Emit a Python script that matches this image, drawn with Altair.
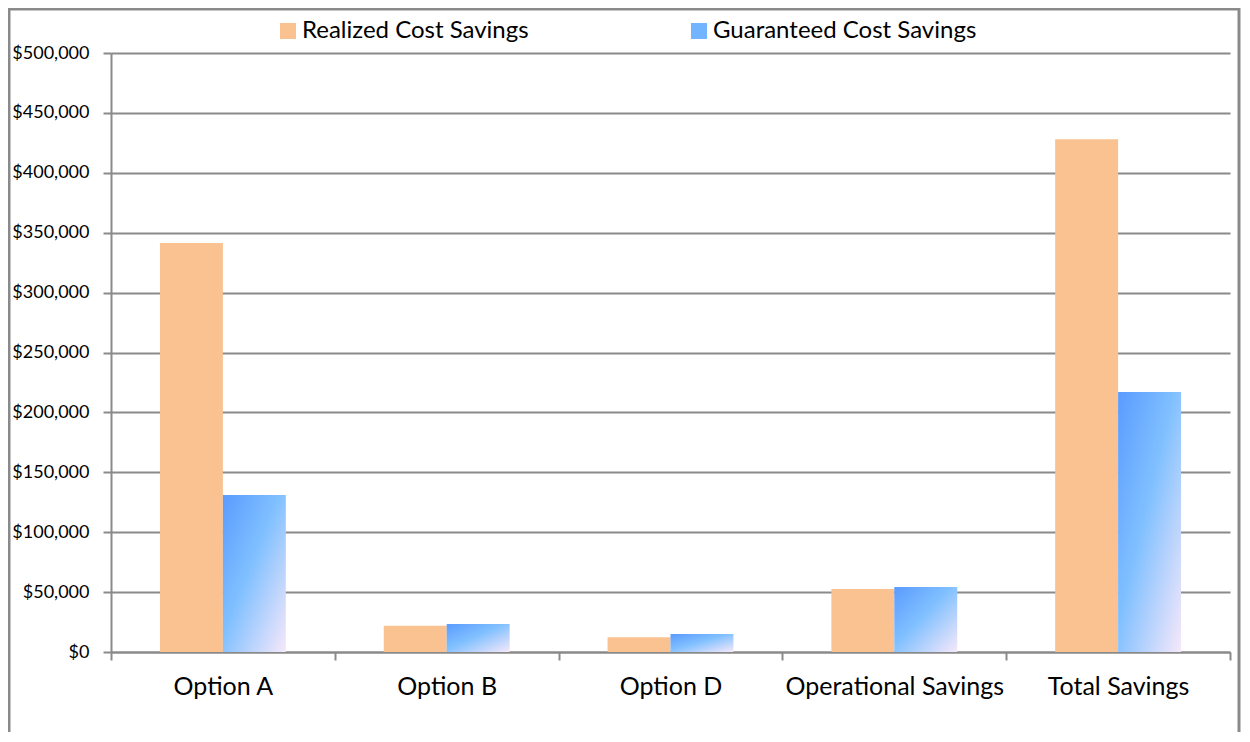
import altair as alt
import pandas as pd

categories = ["Option A", "Option B", "Option D", "Operational Savings", "Total Savings"]
realized = [341500, 22000, 12300, 52600, 428000]
guaranteed = [131000, 23400, 15000, 54300, 217000]
series = ["Realized Cost Savings", "Guaranteed Cost Savings"]
y_ticks = [0, 50000, 100000, 150000, 200000, 250000, 300000, 350000, 400000, 450000, 500000]

rows = []
for c, r, g in zip(categories, realized, guaranteed):
    rows.append({"Category": c, "Series": series[0], "Value": r})
    rows.append({"Category": c, "Series": series[1], "Value": g})
df = pd.DataFrame(rows)

W, H = 1119, 599
GRID = "#8a8a8a"
FONT = "Lato"
ORANGE = "#FAC191"

x = alt.X(
    "Category:N", sort=categories,
    scale=alt.Scale(paddingInner=0, paddingOuter=0),
    axis=alt.Axis(title=None, labelAngle=0, labelFontSize=25, labelFont=FONT, labelColor="black",
                  labelLimit=400, tickBand="extent", tickSize=8, tickColor=GRID, tickWidth=2,
                  domainColor=GRID, domainWidth=2, labelPadding=14, grid=False),
)
xoff = alt.XOffset("Series:N", sort=series,
                   scale=alt.Scale(domain=series, paddingInner=0, paddingOuter=0.778))
y = alt.Y(
    "Value:Q",
    scale=alt.Scale(domain=[0, 500000], nice=False, zero=True),
    axis=alt.Axis(title=None, values=y_ticks, format="$,.0f", labelFontSize=18, labelFont=FONT,
                  labelColor="black", tickSize=8, tickColor=GRID, tickWidth=2,
                  domainColor=GRID, domainWidth=2, labelPadding=14,
                  grid=True, gridColor=GRID, gridWidth=2),
)

base = alt.Chart(df)

orange = base.transform_filter(alt.datum.Series == series[0]).mark_bar(color=ORANGE).encode(
    x=x, xOffset=xoff, y=y,
    color=alt.Color("Series:N", scale=alt.Scale(domain=series, range=[ORANGE, "#72B4FF"]),
                    legend=alt.Legend(orient="none", legendX=165, legendY=-34, direction="horizontal",
                                      title=None, symbolType="square", symbolSize=256,
                                      symbolStrokeWidth=0, labelFontSize=24, labelFont=FONT,
                                      labelColor="black", labelLimit=500, columnPadding=158,
                                      labelOffset=2, padding=0)),
)

grad = alt.LinearGradient(
    gradient="linear",
    stops=[alt.GradientStop(color="#5A9BFF", offset=0),
           alt.GradientStop(color="#80C0FF", offset=0.45),
           alt.GradientStop(color="#F6E8FA", offset=1)],
    x1=0, y1=0, x2=1, y2=1,
)
blue = base.transform_filter(alt.datum.Series == series[1]).mark_bar(fill=grad).encode(
    x=x, xOffset=xoff, y=y,
)

frame = alt.Chart(pd.DataFrame({"f": [0]})).mark_rect(
    fillOpacity=0, stroke="#8a8a8a", strokeWidth=3
).encode(
    x=alt.value(-102), x2=alt.value(W + 9), y=alt.value(-44), y2=alt.value(H + 120)
)

chart = alt.layer(frame, orange, blue).properties(
    width=W, height=H,
    autosize=alt.AutoSizeParams(type="none"),
    padding={"left": 103, "top": 45, "right": 12, "bottom": 80},
    background="white",
).configure_view(strokeWidth=0)

chart.save("out.html", embed_options={"renderer": "svg", "actions": False})
